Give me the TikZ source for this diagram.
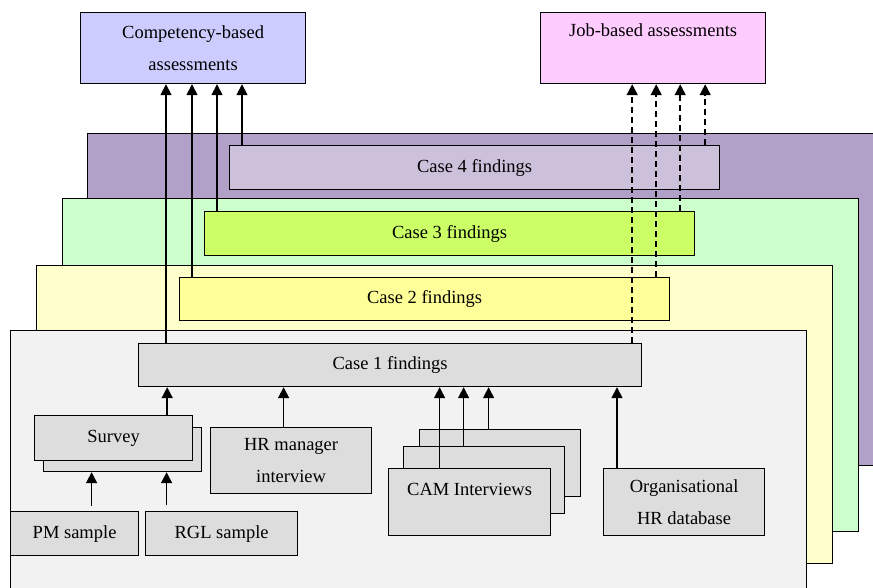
\documentclass[tikz,border=0pt]{standalone}
\usepackage{fontspec}
\setmainfont{Liberation Serif}
\usetikzlibrary{arrows.meta}
\definecolor{compblue}{HTML}{CCCCFF}
\definecolor{jobpink}{HTML}{FFCCFF}
\definecolor{purplelayer}{HTML}{B1A0C7}
\definecolor{purplecase}{HTML}{CCC0DA}
\definecolor{greenlayer}{HTML}{CCFFCC}
\definecolor{greencase}{HTML}{CCFF66}
\definecolor{yellowlayer}{HTML}{FFFFCC}
\definecolor{yellowcase}{HTML}{FFFF99}
\definecolor{greylayer}{HTML}{F2F2F2}
\definecolor{greybox}{HTML}{DDDDDD}
\begin{document}
\begin{tikzpicture}[x=1pt, y=-1pt,
		every node/.style={draw, line width=1.2pt, anchor=north west, inner sep=0pt,
			align=center, font=\fontsize{18.5}{32}\selectfont},
		source/.style={fill=greybox},
		up/.style={-{Triangle[width=11pt,length=11pt]}, line width=1.6pt},
		dashup/.style={up, dash pattern=on 6pt off 4pt}]

	\useasboundingbox (0,0) rectangle (873,588);
	\clip (0,0) rectangle (873,588);

	% stacked case layers
	\node[fill=purplelayer, minimum width=793pt, minimum height=332pt] (l4) at (87,133) {};
	\node[fill=purplecase, minimum width=490pt, minimum height=44pt] (c4) at (229,145) {Case 4 findings};
	\node[fill=greenlayer, minimum width=796pt, minimum height=333pt] (l3) at (62,198) {};
	\node[fill=greencase, minimum width=490pt, minimum height=44pt] (c3) at (204,211) {Case 3 findings};
	\node[fill=yellowlayer, minimum width=796pt, minimum height=298pt] (l2) at (36,265) {};
	\node[fill=yellowcase, minimum width=490pt, minimum height=43pt] (c2) at (179,277) {Case 2 findings};
	\node[fill=greylayer, minimum width=796pt, minimum height=270pt] (l1) at (10,330) {};
	\node[source, minimum width=503pt, minimum height=43pt] (c1) at (138,343) {Case 1 findings};

	% assessments
	\node[fill=compblue, minimum width=225pt, minimum height=71pt] (comp) at (80,12) {Competency-based\\assessments};
	\node[fill=jobpink, minimum width=225pt, minimum height=71pt, text height=13pt, text depth=36pt] (job) at (540,12) {Job-based assessments};

	% sources
	\node[source, minimum width=158pt, minimum height=44pt] (surveyb) at (43,427) {};
	\node[source, minimum width=158pt, minimum height=45pt] (survey) at (34,415) {Survey};
	\node[source, minimum width=161pt, minimum height=66pt] (hr) at (210,427) {HR manager\\interview};
	\node[source, minimum width=128pt, minimum height=44pt] (pm) at (10,511) {PM sample};
	\node[source, minimum width=152pt, minimum height=44pt] (rgl) at (145,511) {RGL sample};
	\node[source, minimum width=161pt, minimum height=67pt] (cam3) at (419,429) {};
	\node[source, minimum width=161pt, minimum height=67pt] (cam2) at (403,446) {};
	\node[source, minimum width=162pt, minimum height=67pt, text height=13pt, text depth=26pt] (cam1) at (388,468) {CAM Interviews};
	\node[source, minimum width=161pt, minimum height=67pt] (org) at (603,468) {Organisational\\HR database};

	\draw[up] ([xshift=28pt]c1.north west) -- ([xshift=28pt]c1.north west |- comp.south);
	\draw[up] ([xshift=13pt]c2.north west) -- ([xshift=13pt]c2.north west |- comp.south);
	\draw[up] ([xshift=13pt]c3.north west) -- ([xshift=13pt]c3.north west |- comp.south);
	\draw[up] ([xshift=13pt]c4.north west) -- ([xshift=13pt]c4.north west |- comp.south);

	\draw[dashup] ([xshift=-10pt]c1.north east) -- ([xshift=-10pt]c1.north east |- job.south);
	\draw[dashup] ([xshift=-14pt]c2.north east) -- ([xshift=-14pt]c2.north east |- job.south);
	\draw[dashup] ([xshift=-15pt]c3.north east) -- ([xshift=-15pt]c3.north east |- job.south);
	\draw[dashup] ([xshift=-15pt]c4.north east) -- ([xshift=-15pt]c4.north east |- job.south);

	\draw[up] ([xshift=-26pt]survey.north east) -- ([xshift=-26pt]survey.north east |- c1.south);
	\draw[up] ([xshift=-7.5pt]hr.north) -- ([xshift=-7.5pt]hr.north |- c1.south);
	\draw[up, shorten <=5pt] ([xshift=17pt]pm.north) -- ([xshift=17pt]pm.north |- surveyb.south);
	\draw[up, shorten <=6pt] ([xshift=-55pt]rgl.north) -- ([xshift=-55pt]rgl.north |- surveyb.south);
	\draw[up] ([xshift=-30pt]cam1.north) -- ([xshift=-30pt]cam1.north |- c1.south);
	\draw[up] ([xshift=-20.5pt]cam2.north) -- ([xshift=-20.5pt]cam2.north |- c1.south);
	\draw[up] ([xshift=-11.5pt]cam3.north) -- ([xshift=-11.5pt]cam3.north |- c1.south);
	\draw[up] ([xshift=14pt]org.north west) -- ([xshift=14pt]org.north west |- c1.south);
\end{tikzpicture}
\end{document}
